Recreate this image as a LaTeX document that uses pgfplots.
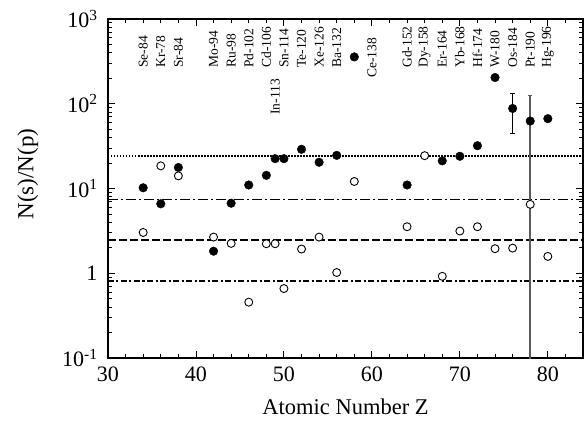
\documentclass[border=0pt]{standalone}
\usepackage{fontspec}
\setmainfont{Liberation Serif}
\usepackage{pgfplots}
\pgfplotsset{compat=1.18}
\begin{document}
\begin{tikzpicture}
\useasboundingbox (-108pt,-70pt) rectangle (477pt,358pt);
\begin{axis}[
  at={(0pt,0pt)}, anchor=south west,
  scale only axis, width=475pt, height=339pt,
  xmin=30, xmax=84, ymode=log, ymin=0.1, ymax=1000,
  xtick={30,40,50,60,70,80},
  minor xtick={32,34,36,38,42,44,46,48,52,54,56,58,62,64,66,68,72,74,76,78,82},
  ytick={0.1,1,10,100,1000},
  yticklabels={10\textsuperscript{-1},1,10\textsuperscript{1},10\textsuperscript{2},10\textsuperscript{3}},
  minor ytick={0.2,0.3,0.4,0.5,0.6,0.7,0.8,0.9,2,3,4,5,6,7,8,9,20,30,40,50,60,70,80,90,200,300,400,500,600,700,800,900},
  tick align=inside,
  major tick length=7pt, minor tick length=4pt,
  axis line style={line width=1.2pt},
  every tick/.style={line width=0.9pt,black},
  /pgf/number format/assume math mode=true,
  tick label style={font=\fontsize{22}{26}\selectfont},
  xticklabel style={yshift=-5pt},
  yticklabel style={xshift=-7pt},
  xlabel={Atomic Number Z},
  ylabel={N(s)/N(p)},
  xlabel style={font=\fontsize{22.5}{27}\selectfont, at={(axis description cs:0.5,-0.145)}, anchor=center},
  ylabel style={font=\fontsize{23}{27}\selectfont, at={(axis description cs:-0.169,0.543)}, anchor=center},
  clip=true,
]
% reference lines
\addplot[black, line width=1.6pt, dash pattern=on 1.5pt off 1.5pt] coordinates {(30,24) (84,24)};
\addplot[black, line width=1.6pt, dash pattern=on 10pt off 3pt on 2pt off 3pt] coordinates {(30,7.4) (84,7.4)};
\addplot[black, line width=1.6pt, dash pattern=on 8pt off 3pt] coordinates {(30,2.47) (84,2.47)};
\addplot[black, line width=1.6pt, dash pattern=on 6pt off 2.5pt on 2pt off 2.5pt] coordinates {(30,0.81) (84,0.81)};
% s-process (filled)
\addplot[only marks, mark=*, mark size=4.3pt, mark options={fill=black, draw=black}] coordinates {
(34,10.2) (36,6.6) (38,17.7) (42,1.82) (44,6.7) (46,11) (48,14.3) (49,22.5) (50,22.5)
(52,29) (54,20.4) (56,24.6) (58,357) (64,11) (68,21.2) (70,24) (72,32) (74,204) (80,66.7)};
% Os with error bar
\addplot[only marks, mark=*, mark size=4.3pt, mark options={fill=black, draw=black},
  error bars/.cd, y dir=both, y explicit, error mark=-,
  error bar style={line width=0.9pt, black}, error mark options={line width=0.9pt, mark size=2.5pt, rotate=90}]
  coordinates {(76,88) += (0,44) -= (0,43.6)};
% Pt with error bar
\addplot[only marks, mark=*, mark size=4.3pt, mark options={fill=black, draw=black},
  error bars/.cd, y dir=both, y explicit, error mark=-,
  error bar style={line width=1.8pt, black!65}, error mark options={line width=1pt, mark size=2pt, rotate=90, black!65}]
  coordinates {(78,62.5) += (0,62.5) -= (0,62.45)};
% p-process (open)
\addplot[only marks, mark=*, mark size=4pt, mark options={fill=white, draw=black, line width=0.9pt}] coordinates {
(34,3.03) (36,18.5) (38,14.1) (42,2.67) (44,2.25) (46,0.456) (48,2.23) (49,2.23) (50,0.66)
(52,1.93) (54,2.67) (56,1.02) (58,12.1) (64,3.54) (66,24.4) (68,0.92) (70,3.15) (72,3.54)
(74,1.95) (76,1.98) (78,6.5) (80,1.58)};
% isotope labels
\begin{scope}[every node/.style={rotate=90, anchor=west, inner sep=0pt, font=\fontsize{13.5}{16}\selectfont}]
\node at (axis cs:34,265) {Se-84};
\node at (axis cs:36,265) {Kr-78};
\node at (axis cs:38,265) {Sr-84};
\node at (axis cs:42,265) {Mo-94};
\node at (axis cs:44,265) {Ru-98};
\node at (axis cs:46,265) {Pd-102};
\node at (axis cs:48,265) {Cd-106};
\node at (axis cs:49,74) {In-113};
\node at (axis cs:50,265) {Sn-114};
\node at (axis cs:52,265) {Te-120};
\node at (axis cs:54,265) {Xe-126};
\node at (axis cs:56,265) {Ba-132};
\node at (axis cs:60,202) {Ce-138};
\node at (axis cs:64,265) {Gd-152};
\node at (axis cs:66,265) {Dy-158};
\node at (axis cs:68,265) {Er-164};
\node at (axis cs:70,265) {Yb-168};
\node at (axis cs:72,265) {Hf-174};
\node at (axis cs:74,265) {W-180};
\node at (axis cs:76,265) {Os-184};
\node at (axis cs:78,265) {Pt-190};
\node at (axis cs:80,265) {Hg-196};
\end{scope}
\end{axis}
\end{tikzpicture}
\end{document}
